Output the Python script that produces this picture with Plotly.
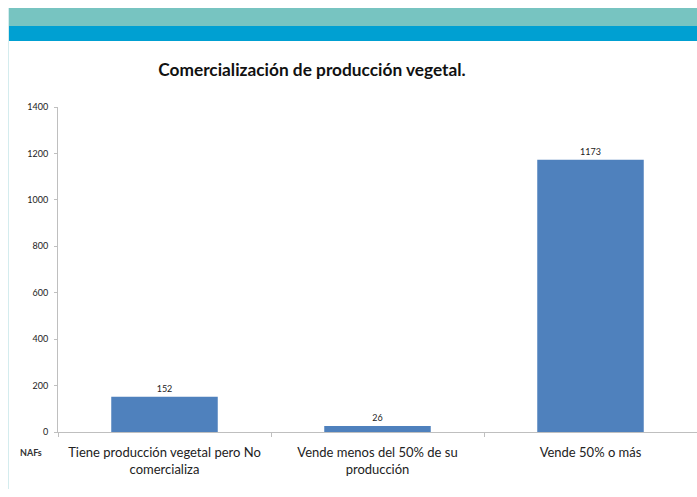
import plotly.graph_objects as go

categories = ["Tiene producción vegetal pero No<br>comercializa",
              "Vende menos del 50% de su<br>producción",
              "Vende 50% o más"]
values = [152, 26, 1173]
y_ticks = [0, 200, 400, 600, 800, 1000, 1200, 1400]

W, H = 697, 497
L, R, T = 58, 0, 107
B = H - 432
pw, ph = W - L - R, H - T - B

def px_x(x):
    return (x - L) / pw

def px_y(y):
    return (H - B - y) / ph

font = "Lato, Carlito, 'Open Sans', sans-serif"

fig = go.Figure(go.Bar(
    x=categories, y=values,
    marker=dict(color="#4f81bd", line=dict(width=0)),
    text=[str(v) for v in values], textposition="outside",
    textfont=dict(size=9, color="#222", family=font),
    cliponaxis=False,
))

fig.update_layout(
    width=W, height=H,
    margin=dict(l=L, r=R, t=T, b=B),
    paper_bgcolor="white", plot_bgcolor="white",
    bargap=0.5,
    showlegend=False,
    font=dict(family=font, color="#222"),
    title=dict(text="<b>Comercialización de producción vegetal.</b>",
               x=312 / W, xanchor="center", y=1 - 70 / H, yanchor="middle",
               font=dict(size=17.3, color="#111", family=font)),
    xaxis=dict(showgrid=False, showline=True, linecolor="#bfbfbf", linewidth=1,
               ticks="outside", tickson="boundaries", ticklen=4, tickcolor="#bfbfbf",
               ticklabelstandoff=8,
               tickfont=dict(size=13, color="#222", family=font)),
    yaxis=dict(range=[0, 1400], tickvals=y_ticks, showgrid=False, zeroline=False,
               showline=True, linecolor="#bfbfbf", linewidth=1,
               ticks="outside", ticklen=3, tickcolor="#bfbfbf",
               ticklabelstandoff=4,
               tickfont=dict(size=9, color="#222", family=font)),
    shapes=[
        dict(type="rect", xref="paper", yref="paper",
             x0=px_x(8), x1=px_x(697), y0=px_y(26), y1=px_y(8),
             fillcolor="#77c4c1", line=dict(width=0), layer="below"),
        dict(type="rect", xref="paper", yref="paper",
             x0=px_x(8), x1=px_x(697), y0=px_y(41), y1=px_y(26),
             fillcolor="#00a0d2", line=dict(width=0), layer="below"),
        dict(type="line", xref="paper", yref="paper",
             x0=px_x(8.5), x1=px_x(8.5), y0=px_y(489), y1=px_y(8),
             line=dict(color="#d4ecee", width=1)),
    ],
    annotations=[
        dict(text="<b>NAFs</b>", xref="paper", yref="paper",
             x=px_x(31), y=px_y(452), xanchor="center", yanchor="middle",
             showarrow=False, font=dict(size=9, color="#333", family=font)),
    ],
)

fig.write_html(
    "out.html",
    config={"displayModeBar": False},
    post_script="document.body.style.margin='0';document.body.style.overflow='hidden';",
)
